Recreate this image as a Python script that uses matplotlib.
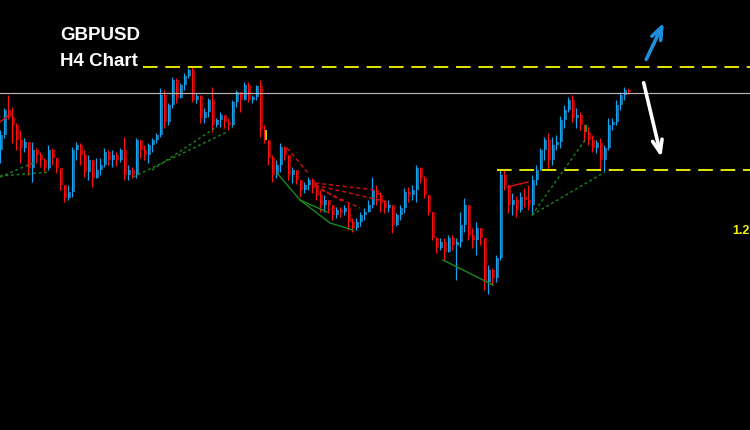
import matplotlib
matplotlib.use("Agg")
import matplotlib.pyplot as plt
from matplotlib.patches import Rectangle

# ---------------- data (GBPUSD H4, prices) ----------------
first_open = 1.2280
close = [1.2295,1.2320,1.2313,1.2305,1.2290,1.2282,1.2288,1.2262,1.2280,1.2275,
         1.2270,1.2262,1.2280,1.2272,1.2262,1.2245,1.2232,1.2238,1.2280,1.2285,
         1.2275,1.2258,1.2270,1.2252,1.2260,1.2265,1.2278,1.2270,1.2275,1.2270,
         1.2280,1.2255,1.2260,1.2255,1.2290,1.2280,1.2275,1.2285,1.2290,1.2295,
         1.2335,1.2308,1.2325,1.2350,1.2332,1.2345,1.2354,1.2360,1.2330,1.2334,
         1.2312,1.2318,1.2330,1.2305,1.2310,1.2315,1.2308,1.2305,1.2328,1.2338,
         1.2330,1.2345,1.2330,1.2333,1.2344,1.2300,1.2290,1.2272,1.2255,1.2265,
         1.2283,1.2275,1.2255,1.2260,1.2250,1.2240,1.2245,1.2250,1.2242,1.2235,
         1.2225,1.2230,1.2225,1.2215,1.2220,1.2218,1.2222,1.2208,1.2202,1.2208,
         1.2215,1.2218,1.2225,1.2240,1.2235,1.2227,1.2222,1.2225,1.2205,1.2215,
         1.2222,1.2238,1.2235,1.2240,1.2262,1.2252,1.2235,1.2218,1.2192,1.2182,
         1.2188,1.2178,1.2192,1.2185,1.2188,1.2205,1.2225,1.2195,1.2190,1.2202,
         1.2192,1.2148,1.2160,1.2152,1.2172,1.2255,1.2245,1.2225,1.2230,1.2220,
         1.2233,1.2230,1.2225,1.2250,1.2260,1.2280,1.2290,1.2270,1.2285,1.2288,
         1.2310,1.2320,1.2330,1.2312,1.2315,1.2305,1.2298,1.2290,1.2282,1.2287,
         1.2270,1.2282,1.2305,1.2308,1.2325,1.2335,1.2340,1.2338]
high = [1.2300,1.2322,1.2335,1.2323,1.2307,1.2300,1.2292,1.2285,1.2288,1.2282,
        1.2278,1.2272,1.2285,1.2282,1.2267,1.2262,1.2245,1.2245,1.2283,1.2288,
        1.2287,1.2280,1.2275,1.2265,1.2272,1.2272,1.2282,1.2280,1.2280,1.2278,
        1.2282,1.2293,1.2265,1.2263,1.2292,1.2290,1.2285,1.2287,1.2292,1.2297,
        1.2342,1.2340,1.2327,1.2353,1.2352,1.2347,1.2357,1.2362,1.2363,1.2337,
        1.2335,1.2322,1.2332,1.2343,1.2312,1.2318,1.2315,1.2312,1.2330,1.2340,
        1.2338,1.2348,1.2348,1.2335,1.2345,1.2350,1.2305,1.2287,1.2275,1.2270,
        1.2287,1.2284,1.2275,1.2263,1.2258,1.2250,1.2248,1.2253,1.2252,1.2247,
        1.2240,1.2235,1.2230,1.2225,1.2223,1.2223,1.2225,1.2227,1.2212,1.2212,
        1.2218,1.2222,1.2230,1.2253,1.2245,1.2238,1.2230,1.2230,1.2225,1.2217,
        1.2225,1.2242,1.2243,1.2245,1.2265,1.2263,1.2254,1.2234,1.2218,1.2193,
        1.2192,1.2192,1.2195,1.2195,1.2192,1.2218,1.2232,1.2225,1.2202,1.2208,
        1.2202,1.2190,1.2165,1.2162,1.2175,1.2260,1.2260,1.2245,1.2237,1.2234,
        1.2238,1.2242,1.2245,1.2255,1.2265,1.2282,1.2293,1.2297,1.2293,1.2295,
        1.2314,1.2325,1.2333,1.2335,1.2322,1.2318,1.2305,1.2303,1.2295,1.2290,
        1.2292,1.2285,1.2312,1.2312,1.2330,1.2338,1.2343,1.2342]
low = [1.2267,1.2292,1.2311,1.2287,1.2280,1.2267,1.2278,1.2255,1.2248,1.2267,
       1.2263,1.2258,1.2260,1.2265,1.2257,1.2240,1.2228,1.2230,1.2233,1.2270,
       1.2265,1.2253,1.2250,1.2243,1.2252,1.2255,1.2263,1.2265,1.2263,1.2264,
       1.2268,1.2250,1.2250,1.2252,1.2252,1.2272,1.2270,1.2267,1.2278,1.2287,
       1.2293,1.2302,1.2305,1.2322,1.2327,1.2333,1.2340,1.2352,1.2328,1.2327,
       1.2307,1.2307,1.2313,1.2298,1.2303,1.2303,1.2302,1.2300,1.2303,1.2323,
       1.2318,1.2330,1.2328,1.2327,1.2330,1.2293,1.2287,1.2265,1.2248,1.2252,
       1.2258,1.2270,1.2250,1.2247,1.2246,1.2233,1.2237,1.2240,1.2237,1.2230,
       1.2218,1.2218,1.2217,1.2210,1.2212,1.2213,1.2215,1.2200,1.2198,1.2200,
       1.2204,1.2210,1.2218,1.2222,1.2225,1.2218,1.2217,1.2218,1.2197,1.2204,
       1.2210,1.2217,1.2228,1.2230,1.2228,1.2247,1.2232,1.2215,1.2190,1.2177,
       1.2180,1.2170,1.2182,1.2180,1.2150,1.2183,1.2198,1.2190,1.2182,1.2175,
       1.2185,1.2140,1.2136,1.2145,1.2148,1.2170,1.2240,1.2217,1.2215,1.2213,
       1.2218,1.2223,1.2220,1.2215,1.2245,1.2260,1.2270,1.2260,1.2265,1.2280,
       1.2282,1.2302,1.2318,1.2308,1.2302,1.2300,1.2288,1.2285,1.2278,1.2277,
       1.2260,1.2259,1.2280,1.2300,1.2305,1.2320,1.2330,1.2336]

# horizontal levels
resistance = 1.23635
pivot = 1.2337
support = 1.22605
resistance_start = 35.5
support_start = 124.0
price_label = "1.2"
price_label_level = 1.2199

# indicator trend lines: (index, price) anchors
red_solid = [([-0.25, 2.75], [1.2308, 1.2317]),
             ([126.5, 131.75], [1.2243, 1.2248])]
green_dashed = [([-0.25, 8.0], [1.2253, 1.2267]),
                ([-0.25, 12.25], [1.2254, 1.2258]),
                ([33.0, 56.5], [1.2253, 1.2298]),
                ([37.75, 53.5], [1.2260, 1.2302]),
                ([132.75, 146.0], [1.2215, 1.2290]),
                ([132.75, 151.0], [1.2215, 1.2258])]
green_solid = [([69.0, 74.75, 81.5], [1.2257, 1.2230, 1.2218]),
               ([74.75, 82.25, 88.0], [1.2230, 1.2207, 1.2200]),
               ([110.5, 123.0], [1.2170, 1.2145])]
red_dashed = [([71.5, 76.75], [1.2282, 1.2257]),
              ([78.5, 93.5], [1.2247, 1.2240]),
              ([78.5, 96.75], [1.2245, 1.2228]),
              ([78.5, 89.75], [1.2243, 1.2222]),
              ([78.5, 86.0], [1.2245, 1.2227])]
arrow_up = ((161.0, 1.2368), (166.0, 1.2410))
arrow_down = ((160.5, 1.2350), (165.25, 1.2270))
special_body = {66: "#c8c800", 146: "#1a9a1a"}

# ---------------- drawing ----------------
W, H = 750, 430
fig = plt.figure(figsize=(W / 100, H / 100), dpi=100, facecolor="black")
ax = fig.add_axes([0, 0, 1, 1], facecolor="black")
ax.set_xlim(-0.25, 187.25)
ax.set_ylim(1.2000, 1.2430)
ax.axis("off")

BULL_WICK, BULL_BODY = "#12a6f0", "#1f70a0"
BEAR_WICK, BEAR_BODY = "#ff1010", "#a00000"
px = 0.72  # one pixel in points

opens = [first_open] + close[:-1]
for i, (o, c, h, l) in enumerate(zip(opens, close, high, low)):
    h = max(h, o, c)
    l = min(l, o, c)
    bull = c >= o
    wick = BULL_WICK if bull else BEAR_WICK
    body = special_body.get(i, BULL_BODY if bull else BEAR_BODY)
    bottom = min(o, c)
    height = max(abs(c - o), 0.00008)
    ax.add_patch(Rectangle((i - 0.3, bottom), 0.75, height, facecolor=body,
                           edgecolor="none", zorder=3))
    ax.plot([i - 0.2, i - 0.2], [l, h], color=wick, lw=px * 1.2, zorder=4,
            solid_capstyle="butt")

# horizontal levels
ax.axhline(pivot, color="#b4b4b4", lw=px * 1.2, zorder=5)
ax.plot([resistance_start, 187.25], [resistance, resistance], color="#e6e600",
        lw=1.4, linestyle=(0, (7.5, 4)), zorder=5)
ax.plot([support_start, 187.25], [support, support], color="#e6e600",
        lw=1.4, linestyle=(0, (7.5, 4)), zorder=5)

# indicator lines
for xs, ys in red_solid:
    ax.plot(xs, ys, color="#e01010", lw=1.0, zorder=6)
for xs, ys in green_dashed:
    ax.plot(xs, ys, color="#1a8a1a", lw=1.0, linestyle=(0, (2, 2)), zorder=6)
for xs, ys in green_solid:
    ax.plot(xs, ys, color="#1a8a1a", lw=1.0, zorder=6)
for xs, ys in red_dashed:
    ax.plot(xs, ys, color="#d01010", lw=1.0, linestyle=(0, (3, 2)), zorder=6)

# arrows
ax.annotate("", xy=arrow_up[1], xytext=arrow_up[0],
            arrowprops=dict(arrowstyle="->,head_length=0.9,head_width=0.35",
                            color="#1e8fdc", lw=2.6), zorder=7)
ax.annotate("", xy=arrow_down[1], xytext=arrow_down[0],
            arrowprops=dict(arrowstyle="->,head_length=0.9,head_width=0.35",
                            color="#ffffff", lw=2.6), zorder=7)

# price label at the right edge
ax.text(182.75, price_label_level, price_label, color="#f0f000", fontsize=9,
        fontweight="bold", family="Liberation Sans", ha="left", va="center",
        clip_on=False)

# titles
fig.text(60 / W, 1 - 35 / H, "GBPUSD", color="white", fontsize=13.5,
         fontweight="bold", family="Liberation Sans", ha="left", va="center")
fig.text(60 / W, 1 - 61 / H, "H4 Chart", color="white", fontsize=13.5,
         fontweight="bold", family="Liberation Sans", ha="left", va="center")

fig.savefig("out.png", dpi=100, facecolor="black")
